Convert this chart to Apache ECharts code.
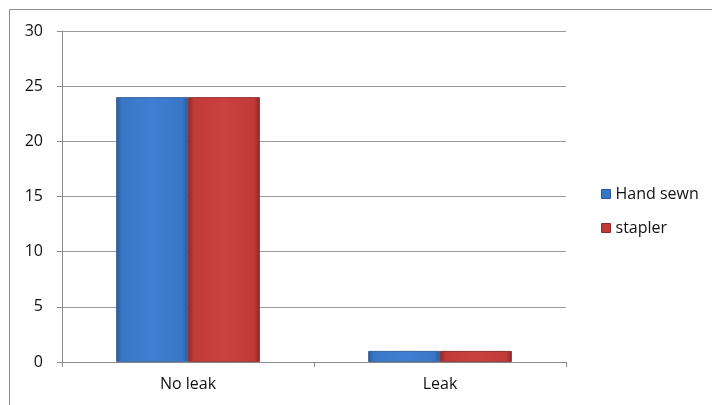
<!DOCTYPE html>
<html><head><meta charset="utf-8">
<script src="https://cdn.jsdelivr.net/npm/echarts@6/dist/echarts.min.js"></script>
<style>html,body{margin:0;padding:0;background:#fff}#c{width:712px;height:405px}</style>
</head><body><div id="c"></div>
<script>
const categories = ["No leak", "Leak"];
const handSewn = [24, 1];
const stapler = [24, 1];
const yTicks = [0, 5, 10, 15, 20, 25, 30];

function grad(dark, mid, light) {
  return new echarts.graphic.LinearGradient(0, 0, 1, 0, [
    {offset: 0, color: dark}, {offset: 0.08, color: mid},
    {offset: 0.5, color: light}, {offset: 0.92, color: mid}, {offset: 1, color: dark}
  ]);
}
const blue = grad('#2b5a9c', '#3a76c6', '#3f7fd2');
const red = grad('#8e2828', '#c03a38', '#cc4140');
const font = 'Open Sans, Liberation Sans, sans-serif';

const chart = echarts.init(document.getElementById('c'), null, {renderer: 'canvas'});
chart.setOption({
  animation: false,
  graphic: [{type: 'rect', shape: {x: 9.5, y: 9.5, width: 720, height: 420}, style: {fill: 'none', stroke: '#8c8c8c', lineWidth: 1}, silent: true}],
  grid: {left: 62, right: 146, top: 31, bottom: 43, containLabel: false},
  legend: {
    orient: 'vertical', left: 596, top: 181, itemGap: 18, itemWidth: 9, itemHeight: 9,
    icon: 'rect', textStyle: {fontFamily: font, fontSize: 16, lineHeight: 16, color: '#111'},
    data: [{name: 'Hand sewn', itemStyle: {color: '#3a76c6', borderColor: '#2b5a9c', borderWidth: 1}},
           {name: 'stapler', itemStyle: {color: '#c03a38', borderColor: '#8e2828', borderWidth: 1}}]
  },
  xAxis: {
    type: 'category', data: categories,
    axisLine: {lineStyle: {color: '#8c8c8c'}},
    axisTick: {show: true, length: 5, lineStyle: {color: '#8c8c8c'}},
    axisLabel: {fontFamily: font, fontSize: 16, color: '#111', margin: 14}
  },
  yAxis: {
    type: 'value', min: 0, max: 30, interval: 5,
    axisLine: {show: true, lineStyle: {color: '#8c8c8c'}},
    axisTick: {show: true, length: 5, lineStyle: {color: '#8c8c8c'}},
    splitLine: {lineStyle: {color: '#9a9a9a'}},
    axisLabel: {fontFamily: font, fontSize: 16, color: '#111', margin: 19,
      formatter: v => yTicks.includes(v) ? String(v) : ''}
  },
  series: [
    {name: 'Hand sewn', type: 'bar', data: handSewn, barGap: '0%', barCategoryGap: '43%',
     itemStyle: {color: blue, borderColor: '#2b5590', borderWidth: 0.8}},
    {name: 'stapler', type: 'bar', data: stapler,
     itemStyle: {color: red, borderColor: '#7e2222', borderWidth: 0.8}}
  ]
});
</script></body></html>
